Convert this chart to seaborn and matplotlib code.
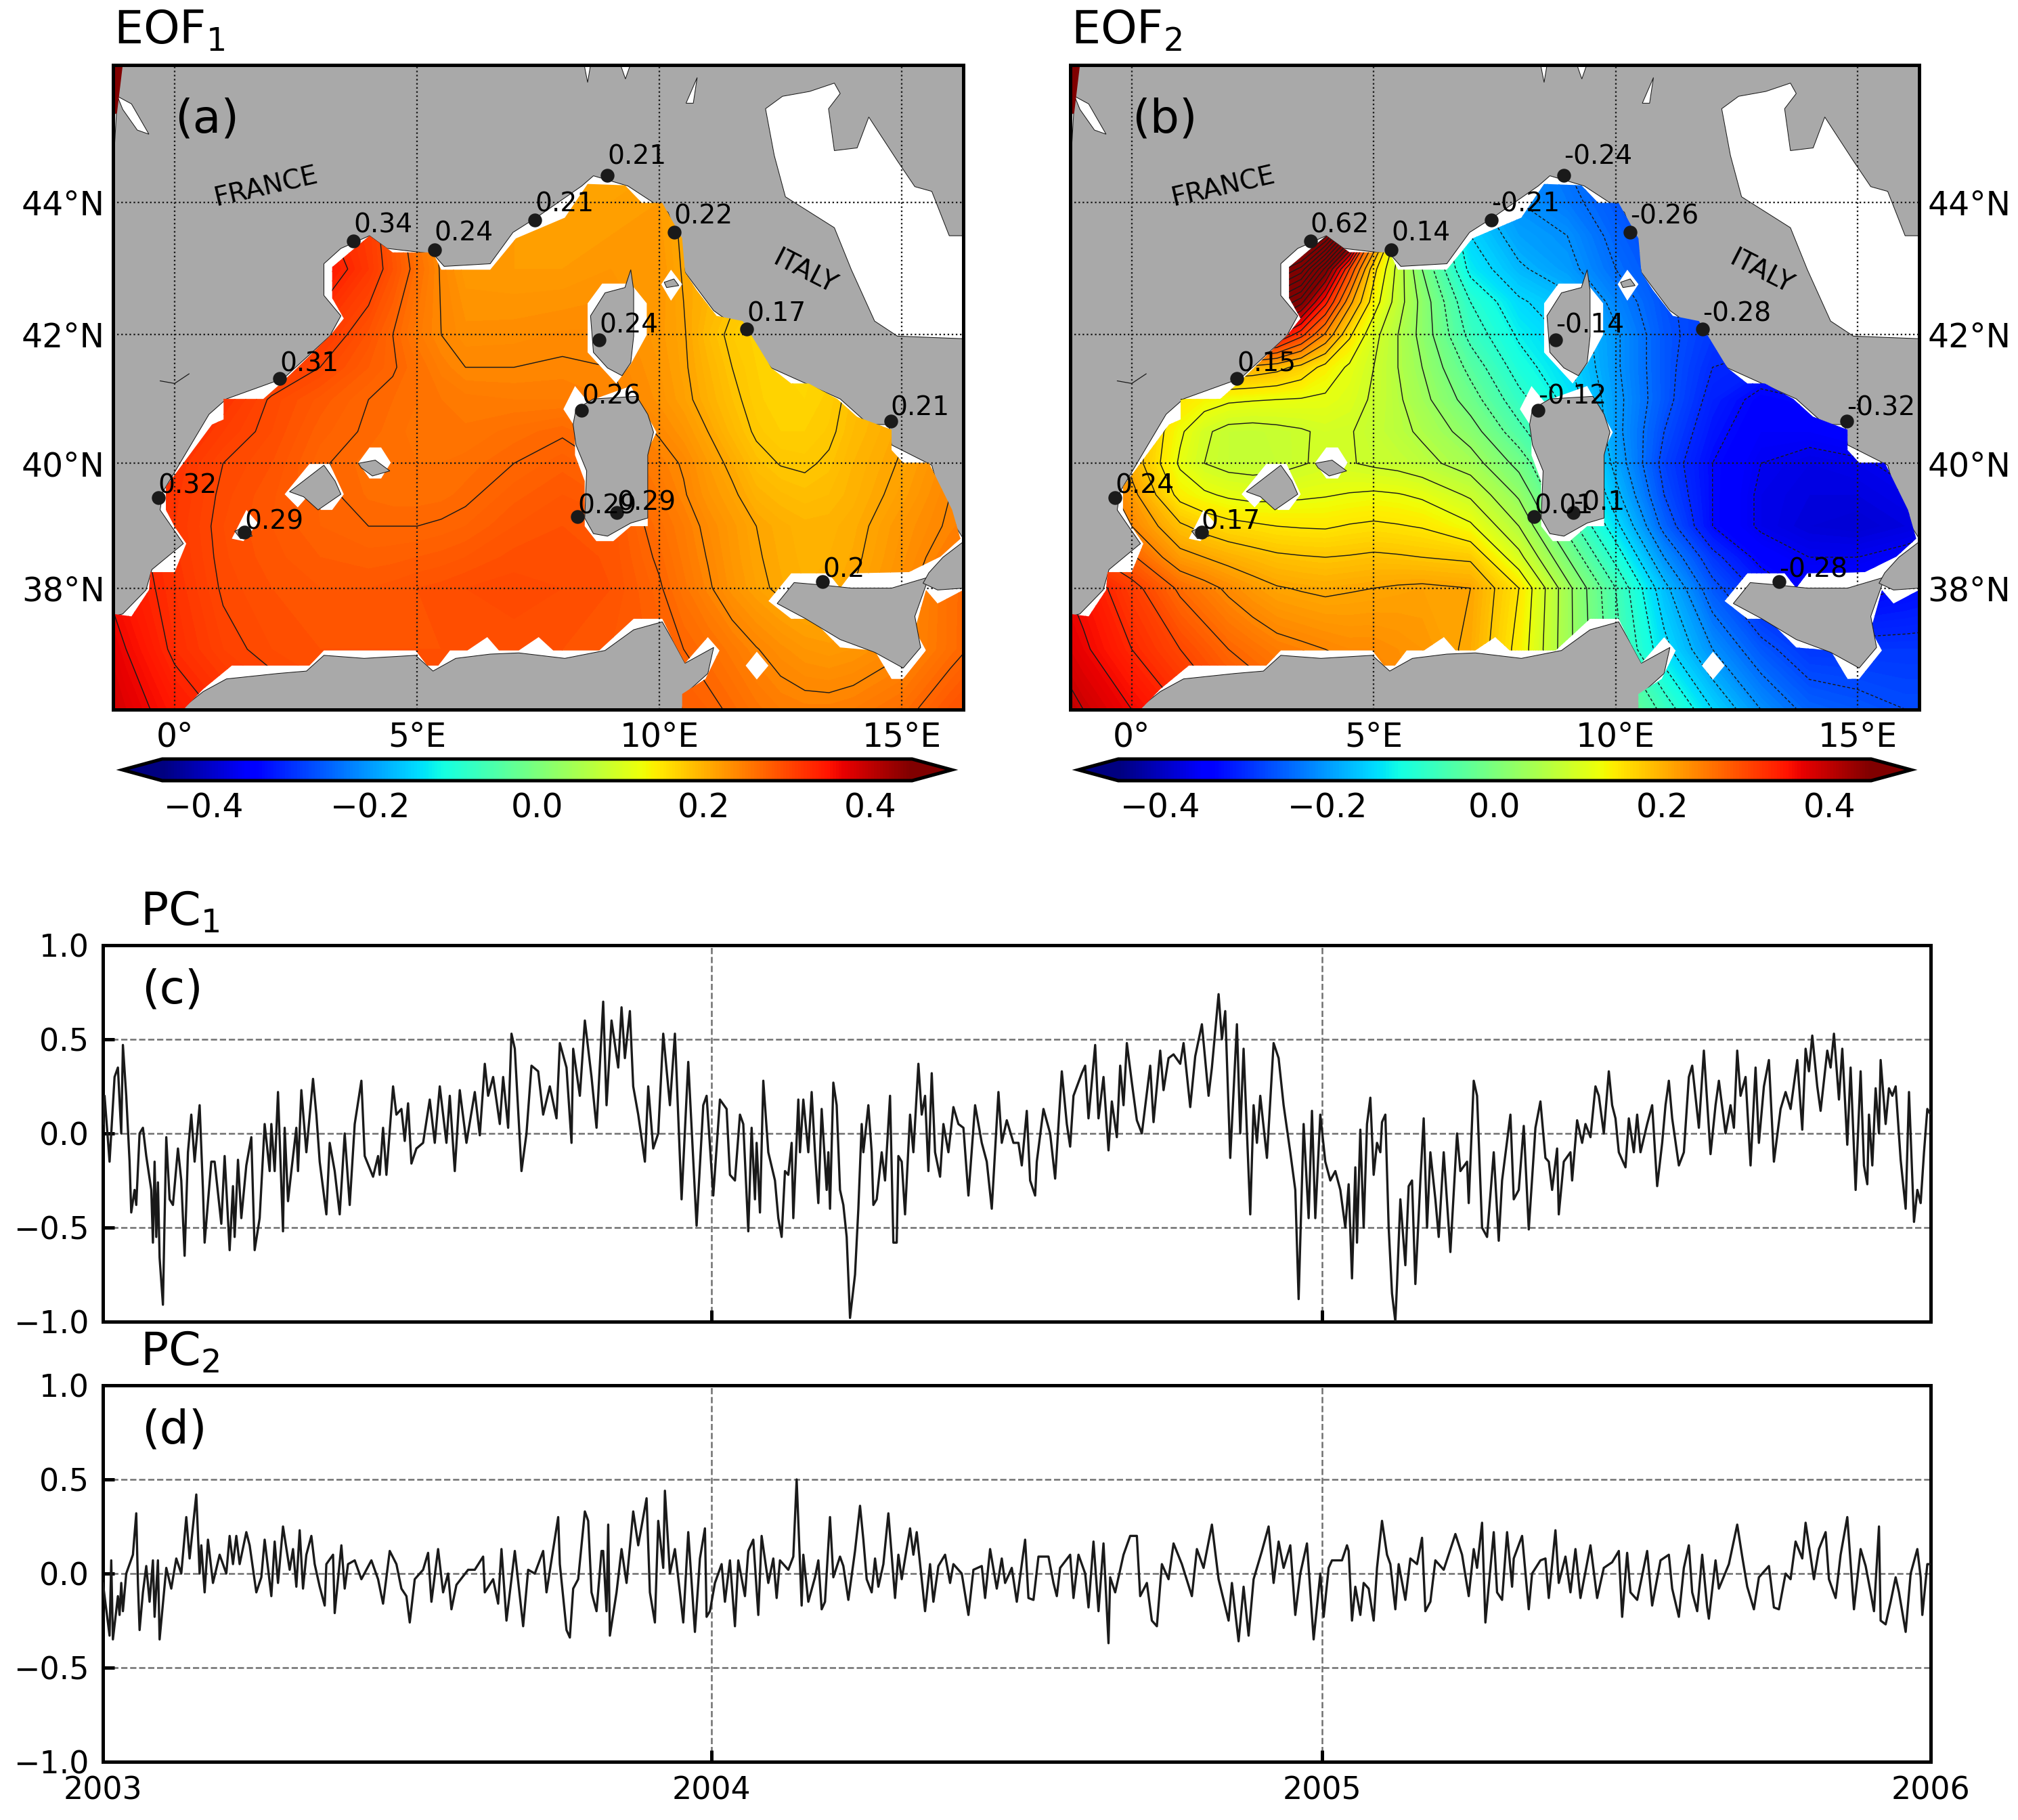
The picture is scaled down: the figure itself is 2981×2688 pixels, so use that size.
from matplotlib import pyplot as plt
from matplotlib.cm import ScalarMappable
from matplotlib.colors import Normalize
from matplotlib.patches import Polygon
import matplotlib.dates as mdates
import seaborn as sns
import numpy as np
import pandas as pd

W, H = 2981, 2688
LAND = '#a9a9a9'

# ---- field values, denser rows/columns where the contours bend
eof1_lon = [-2, -1, 0, 1, 2, 3, 4, 4.5, 5, 5.5, 6, 7, 8, 9, 10, 10.5, 11, 11.5, 12, 12.5, 13, 13.5, 14, 15, 16, 17]
eof1_lat = [36, 37, 38, 38.5, 39, 39.5, 40, 40.5, 41, 41.5, 42, 43, 44, 45]
eof1_field = [
    [.42, .375, .345, .325, .31, .30, .295, .295, .295, .295, .295, .295, .29, .285, .285, .28, .275, .267, .257, .25, .247, .247, .25, .262, .287, .30],
    [.40, .36, .325, .305, .295, .29, .29, .29, .29, .29, .292, .292, .29, .285, .278, .27, .262, .252, .241, .232, .225, .222, .225, .237, .262, .285],
    [.38, .345, .32, .298, .29, .285, .285, .287, .29, .292, .295, .298, .295, .29, .272, .257, .243, .227, .215, .206, .20, .202, .21, .232, .262, .28],
    [.375, .342, .317, .296, .287, .28, .277, .278, .28, .282, .285, .292, .293, .289, .267, .253, .239, .224, .212, .204, .198, .20, .206, .228, .252, .27],
    [.37, .34, .315, .295, .285, .275, .27, .27, .27, .272, .275, .285, .29, .288, .262, .25, .235, .222, .21, .202, .197, .198, .203, .225, .243, .26],
    [.37, .342, .317, .297, .286, .274, .264, .262, .262, .263, .267, .278, .285, .278, .255, .242, .226, .214, .198, .191, .187, .19, .198, .217, .24, .255],
    [.37, .345, .32, .30, .29, .272, .262, .26, .26, .26, .262, .27, .278, .268, .248, .238, .22, .205, .187, .179, .177, .183, .195, .212, .235, .25],
    [.37, .347, .33, .31, .295, .277, .268, .262, .258, .256, .256, .262, .268, .255, .238, .226, .21, .192, .177, .17, .17, .176, .19, .208, .225, .235],
    [.37, .35, .335, .32, .298, .283, .27, .265, .26, .255, .252, .25, .25, .245, .228, .216, .20, .185, .172, .165, .165, .172, .187, .205, .21, .22],
    [.37, .355, .342, .33, .315, .30, .28, .272, .26, .248, .24, .24, .242, .24, .225, .213, .196, .18, .17, .165, .163, .168, .18, .198, .205, .215],
    [.37, .36, .35, .34, .33, .315, .288, .27, .252, .24, .232, .233, .236, .236, .222, .212, .19, .175, .168, .165, .165, .17, .175, .19, .20, .21],
    [.36, .35, .34, .34, .34, .35, .315, .29, .262, .238, .222, .22, .22, .225, .225, .208, .20, .19, .18, .175, .17, .17, .17, .18, .19, .20],
    [.36, .35, .34, .33, .33, .33, .31, .28, .25, .235, .23, .22, .215, .215, .22, .205, .20, .195, .19, .185, .18, .18, .18, .19, .20, .20],
    [.36, .35, .34, .33, .32, .32, .30, .275, .25, .24, .23, .22, .22, .21, .21, .205, .20, .195, .19, .19, .19, .19, .19, .20, .20, .20],
]

eof2_lon = [-2, -1, 0, 1, 1.5, 2, 2.5, 3, 3.5, 4, 4.5, 5, 5.5, 6, 7, 8, 9, 10, 11, 12, 13, 14, 15, 16, 17]
eof2_lat = [36, 37, 38, 38.5, 39, 39.5, 40, 40.5, 41, 41.5, 42, 42.5, 43, 43.5, 44, 45]
eof2_field = [
    [.43, .39, .36, .33, .315, .30, .29, .28, .27, .265, .26, .25, .24, .23, .21, .15, .06, .0, -.07, -.15, -.21, -.25, -.26, -.27, -.27],
    [.40, .365, .33, .30, .285, .27, .26, .25, .245, .24, .235, .235, .23, .225, .205, .14, .04, -.05, -.14, -.21, -.26, -.29, -.29, -.29, -.29],
    [.38, .35, .31, .265, .25, .235, .222, .212, .208, .205, .208, .21, .213, .215, .21, .15, .04, -.06, -.17, -.26, -.31, -.34, -.34, -.33, -.32],
    [.34, .31, .275, .22, .21, .20, .192, .185, .182, .18, .182, .185, .183, .18, .175, .10, .0, -.10, -.21, -.29, -.34, -.36, -.36, -.35, -.34],
    [.32, .29, .24, .185, .17, .16, .155, .15, .148, .147, .152, .155, .152, .148, .125, .06, -.04, -.14, -.25, -.33, -.365, -.38, -.385, -.375, -.36],
    [.31, .28, .22, .14, .125, .115, .11, .112, .115, .118, .122, .125, .122, .115, .085, .025, -.07, -.17, -.27, -.33, -.365, -.375, -.375, -.365, -.35],
    [.30, .27, .20, .115, .09, .08, .078, .08, .088, .095, .092, .085, .08, .07, .045, -.01, -.09, -.19, -.28, -.33, -.36, -.37, -.365, -.35, -.34],
    [.30, .27, .20, .125, .095, .08, .078, .082, .087, .095, .092, .08, .068, .055, .015, -.05, -.11, -.20, -.27, -.32, -.35, -.35, -.34, -.33, -.33],
    [.30, .27, .22, .15, .135, .125, .122, .12, .118, .115, .105, .085, .065, .04, -.015, -.08, -.13, -.20, -.26, -.31, -.34, -.33, -.32, -.32, -.32],
    [.32, .30, .27, .23, .215, .205, .20, .19, .17, .14, .115, .09, .06, .03, -.04, -.105, -.145, -.205, -.26, -.30, -.31, -.30, -.30, -.30, -.30],
    [.40, .40, .40, .40, .40, .40, .40, .37, .31, .235, .155, .10, .06, .02, -.07, -.125, -.155, -.205, -.26, -.29, -.29, -.29, -.29, -.29, -.29],
    [.55, .55, .55, .55, .55, .55, .55, .52, .46, .34, .22, .135, .075, .02, -.09, -.145, -.17, -.22, -.265, -.285, -.285, -.285, -.285, -.285, -.285],
    [.70, .70, .70, .70, .70, .70, .70, .68, .62, .47, .30, .16, .08, .0, -.13, -.175, -.20, -.24, -.27, -.28, -.28, -.28, -.28, -.28, -.28],
    [.80, .80, .80, .80, .80, .80, .80, .80, .80, .70, .52, .26, .10, -.02, -.15, -.195, -.21, -.25, -.28, -.28, -.28, -.28, -.28, -.28, -.28],
    [.90, .90, .90, .90, .90, .90, .90, .90, .90, .90, .80, .40, .15, .0, -.17, -.21, -.23, -.26, -.28, -.28, -.28, -.28, -.28, -.28, -.28],
    [.90, .90, .90, .90, .90, .90, .90, .90, .90, .90, .80, .40, .15, .0, -.20, -.22, -.25, -.27, -.28, -.28, -.28, -.28, -.28, -.28, -.28],
]

# ---- stations
station_lon = [8.93, 7.43, 10.3, 5.36, 3.69, 8.76, 11.8, 2.17, 8.4, 14.77, -.34, 1.44, 8.31, 9.12, 13.37]
station_lat = [44.4, 43.73, 43.55, 43.29, 43.42, 41.92, 42.09, 41.33, 40.83, 40.66, 39.46, 38.9, 39.15, 39.22, 38.11]
eof1_labels = ['0.21', '0.21', '0.22', '0.24', '0.34', '0.24', '0.17', '0.31', '0.26', '0.21', '0.32', '0.29', '0.29', '0.29', '0.2']
eof2_labels = ['-0.24', '-0.21', '-0.26', '0.14', '0.62', '-0.14', '-0.28', '0.15', '-0.12', '-0.32', '0.24', '0.17', '0.01', '-0.1', '-0.28']
label_dy = [3.9, 3.1, 3.1, 3.1, 2.9, 2.6, 2.6, 2.4, 2.4, 2.2, 1.5, 1.1, 1.1, .9, 1.5]

# ---- coastlines (lon, lat)
sea_coast = [(.12, 36), (.59, 36.3), (1.07, 36.51), (2.13, 36.6), (2.72, 36.64), (3.08, 36.9), (3.91, 36.85), (4.97, 36.9),
             (5.33, 36.64), (5.8, 36.85), (6.51, 36.92), (7.1, 36.94), (8.05, 36.85), (8.88, 36.98), (9.47, 37.32),
             (10.06, 37.45), (10.3, 37.11), (10.53, 36.77), (11.12, 37.03), (11, 36.6), (10.53, 36.26), (10.47, 36),
             (16.27, 36), (16.27, 38.8), (15.86, 39.3), (15.62, 39.97), (14.79, 40.29), (14.73, 40.61), (14.32, 40.61),
             (13.73, 41.01), (13.02, 41.25), (12.31, 41.49), (11.72, 42.05), (11.12, 42.37), (10.53, 42.95), (10.41, 43.38),
             (10.18, 43.85), (9.35, 44.24), (8.64, 44.39), (8.4, 44.24), (7.46, 43.77), (6.98, 43.55), (6.51, 43.08),
             (5.56, 43.04), (5.33, 43.23), (4.38, 43.31), (4.02, 43.5), (3.43, 43.31), (3.08, 43.08), (3.08, 42.6),
             (3.43, 42.29), (3.2, 41.98), (2.25, 41.33), (1.07, 41.01), (.71, 40.77), (-.24, 39.55), (-.3, 39.26),
             (.18, 38.72), (-.47, 38.3), (-.59, 37.97), (-1.07, 37.58), (-1.27, 37.54), (-1.27, 36)]
adriatic = [(12.19, 45.37), (12.54, 45.55), (13.1, 45.62), (13.61, 45.74), (13.73, 45.59), (13.49, 45.37), (13.61, 44.76), (14.08, 44.8),
            (14.32, 45.25), (14.91, 44.61), (15.27, 44.23), (15.62, 44.16), (15.98, 43.5), (16.27, 43.5), (16.27, 41.94),
            (14.91, 41.98), (14.44, 42.21), (13.96, 42.99), (13.61, 43.62), (12.6, 44.08), (12.37, 44.69)]
gironde = [(-1.18, 45.55), (-.89, 45.44), (-.53, 45), (-.77, 45.06), (-1.07, 45.36)]
atlantic = [(-1.27, 45.3), (-1.2, 45.3), (-1.25, 44.7), (-1.27, 44.7)]
garda = [(10.55, 45.45), (10.78, 45.82), (10.7, 45.45)]
lakes = [(8.45, 46), (8.52, 45.75), (8.58, 46)], [(9.2, 46), (9.3, 45.8), (9.4, 46)]
atlantic_red = [(-1.27, 46), (-1.07, 46), (-1.19, 45.3), (-1.27, 45.3)]
ebro = [(-.3, 41.29), (0, 41.25), (.3, 41.4)]

corsica = [(9.41, 42.99), (9.47, 42.68), (9.47, 41.98), (9.41, 41.57), (9.23, 41.37), (8.93, 41.49), (8.64, 41.73),
           (8.58, 42.29), (8.88, 42.64), (9.29, 42.72)]
sardinia = [(8.28, 40.85), (8.64, 41.01), (9.53, 41.05), (9.76, 40.77), (9.88, 40.49), (9.76, 40.13), (9.76, 39.13),
            (9.41, 39.05), (8.93, 38.84), (8.64, 38.88), (8.46, 39.13), (8.5, 39.88), (8.28, 40.29), (8.22, 40.61)]
sicily = [(12.43, 37.75), (12.78, 38.09), (13.37, 38.05), (13.96, 38), (14.79, 38), (15.56, 38.18), (15.27, 37.54),
          (15.39, 37.03), (15.03, 36.69), (14.44, 36.95), (13.73, 37.16), (13.02, 37.5)]
calabria = [(16.27, 38.75), (15.85, 38.5), (15.56, 38.25), (15.44, 38.08), (15.74, 37.97), (16.27, 38)]
mallorca = [(2.37, 39.55), (3.08, 39.97), (3.31, 39.72), (3.43, 39.51), (2.96, 39.26), (2.66, 39.47)]
menorca = [(3.79, 40), (4.14, 40.05), (4.44, 39.88), (4.08, 39.8), (3.85, 39.93)]
ibiza = [(1.24, 38.92), (1.48, 39), (1.6, 38.84), (1.36, 38.8)]
elba = [(10.1, 42.8), (10.3, 42.85), (10.4, 42.75), (10.15, 42.72)]

# ---- outline of the gridded data
domain = [(-1.27, 36), (-1.27, 37.58), (-.89, 37.54), (-.53, 37.97), (-.5, 38.26), (0, 38.26), (.24, 38.72), (0, 38.99),
          (-.18, 39.26), (-.18, 39.63), (.77, 40.61), (1.01, 40.69), (1.01, 41.01), (1.83, 41.01), (2.25, 41.29), (3.2, 41.98),
          (3.49, 42.25), (3.25, 42.56), (3.25, 43.03), (4.02, 43.5), (4.5, 43.25), (5.33, 43.25), (5.5, 42.99), (6.51, 42.99),
          (7.04, 43.46), (8.05, 43.77), (8.52, 44.27), (9.29, 44.25), (9.64, 43.99), (10.06, 43.99), (10.47, 43.46),
          (10.53, 42.95), (10.77, 42.68), (11.18, 42.29), (11.72, 42.21), (12.31, 41.49), (12.72, 41.25), (13.08, 41.25),
          (13.67, 41.01), (14.08, 40.73), (14.79, 40.53), (14.79, 40.21), (15.03, 40.01), (15.56, 40.01), (16.04, 39.26),
          (16.21, 38.8), (15.8, 38.51), (15.15, 38.26), (13.96, 38.24), (13.73, 38), (13.49, 38.24), (12.72, 38.24),
          (12.25, 37.79), (12.72, 37.5), (13.14, 37.5), (13.73, 37.03), (14.44, 36.98), (14.79, 36.51), (15.03, 36.51),
          (15.5, 36.98), (15.27, 37.32), (15.5, 37.97), (15.74, 37.75), (16.27, 37.97), (16.27, 36), (10.47, 36),
          (10.47, 36.26), (10.95, 36.51), (11.24, 36.98), (11, 37.2), (10.53, 36.77), (10.3, 37.11), (10.06, 37.5),
          (9.47, 37.5), (8.76, 36.98), (7.81, 36.98), (7.51, 37.2), (7.1, 36.98), (6.69, 36.98), (6.45, 37.2), (6.04, 36.98),
          (5.68, 36.98), (5.44, 36.73), (5.21, 36.73), (4.97, 36.98), (3.08, 36.98), (2.78, 36.73), (1.18, 36.73),
          (.59, 36.34), (.18, 36)]
holes = [
    [(8.52, 42.48), (8.82, 42.78), (9.41, 42.78), (9.74, 42.48), (9.74, 42), (9.41, 41.55), (9.11, 41.25), (8.52, 41.73)],
    [(8.02, 40.85), (8.26, 41.21), (8.52, 40.97), (9.41, 41.21), (9.94, 40.49), (9.76, 40.21), (9.76, 39), (9.41, 39),
     (9.05, 38.76), (8.7, 38.76), (8.46, 39), (8.46, 39.72), (8.26, 40.13), (8.26, 40.57)],
    [(3.79, 40.01), (4.02, 40.25), (4.26, 40.25), (4.46, 40.01), (4.26, 39.76), (4.02, 39.76)],
    [(2.27, 39.51), (2.78, 39.99), (3.2, 39.99), (3.49, 39.51), (3.25, 39.26), (3.02, 39.26), (2.78, 39.51), (2.54, 39.3)],
    [(1.18, 38.8), (1.48, 39.26), (1.72, 39.05), (1.42, 38.76)],
    [(10.04, 42.77), (10.24, 42.99), (10.47, 42.77), (10.24, 42.52)],
    [(11.78, 36.73), (12.01, 36.96), (12.25, 36.73), (12.01, 36.5)],
]

# ---- principal components: (day since 2003-01-01, value), turning points
pc1_points = [
    (0, .05), (1, .2), (4, -.15), (7, .3), (9, .35), (11, 0), (12, .47), (14, .2), (16, -.15), (17, -.42), (19, -.3), (20, -.38),
    (22, 0), (24, .03), (26, -.12), (29, -.3), (30, -.58), (31, -.15), (32, -.55), (33, -.26), (34, -.66), (36, -.91), (37, -.45),
    (38, -.02), (40, -.35), (42, -.38), (45, -.08), (47, -.25), (49, -.65), (51, -.1), (53, .1), (55, -.15), (58, .15), (60, -.3),
    (61, -.58), (65, -.15), (67, -.15), (71, -.48), (73, -.12), (76, -.62), (78, -.28), (79, -.55), (81, -.14), (83, -.45),
    (86, -.17), (89, -.02), (91, -.62), (94, -.45), (97, .05), (100, -.2), (101, .05), (103, -.2), (105, .22), (108, -.52),
    (109, .03), (111, -.36), (113, -.2), (116, .03), (117, -.2), (119, .23), (122, -.1), (126, .29), (128, .1), (130, -.15),
    (134, -.43), (136, -.05), (139, -.2), (142, -.43), (145, 0), (148, -.38), (151, .05), (155, .28), (157, -.12), (162, -.23),
    (165, -.12), (166, -.22), (168, .03), (170, -.22), (174, .25), (176, .1), (179, .13), (181, -.04), (183, .16), (185, -.16),
    (188, -.08), (192, -.05), (196, .18), (199, -.05), (202, .25), (206, -.05), (208, .2), (211, -.2), (214, .23), (218, -.05),
    (223, .22), (226, -.01), (229, .37), (231, .2), (234, .3), (238, .05), (240, .3), (243, .03), (245, .53), (247, .45),
    (251, -.2), (254, 0), (257, .36), (261, .33), (264, .1), (268, .25), (272, .08), (274, .48), (278, .35), (281, -.05),
    (282, .45), (286, .2), (289, .6), (293, .3), (296, .03), (300, .7), (302, .15), (305, .6), (309, .35), (311, .67), (313, .4),
    (316, .65), (318, .25), (321, .1), (325, -.15), (327, .25), (330, -.08), (333, 0), (336, .53), (340, .15), (343, .53),
    (347, -.35), (351, .38), (356, -.49), (360, .15), (362, .2), (366, -.33), (370, .18), (374, .13), (376, -.22), (379, -.25),
    (382, .1), (384, .05), (387, -.52), (389, .03), (391, -.35), (392, -.05), (394, -.42), (396, .28), (399, -.1), (403, -.25),
    (405, -.45), (407, -.55), (409, -.2), (411, -.22), (413, -.05), (414, -.45), (417, .18), (418, -.1), (420, .18), (423, -.1),
    (425, .22), (427, -.1), (429, -.37), (431, .13), (434, -.3), (435, -.1), (436, -.4), (438, .27), (440, .15), (442, -.3),
    (444, -.38), (446, -.55), (448, -.98), (451, -.75), (453, -.4), (455, .05), (456, -.1), (459, .15), (461, -.1), (462, -.38),
    (464, -.35), (467, -.1), (469, -.25), (472, .2), (474, -.58), (476, -.58), (477, -.12), (479, -.15), (481, -.43), (484, .1),
    (486, -.1), (489, .37), (491, .1), (493, .2), (495, -.2), (497, .32), (499, -.1), (502, -.23), (504, .05), (507, -.1),
    (510, .14), (513, .05), (516, .03), (519, -.33), (523, .15), (527, -.05), (530, -.15), (533, -.4), (537, .22), (539, -.05),
    (542, .07), (546, -.05), (549, -.05), (551, -.17), (554, .12), (556, -.25), (559, -.33), (560, -.15), (564, .13), (568, 0),
    (571, -.24), (575, .33), (578, .05), (580, -.07), (582, .2), (587, .32), (589, .36), (591, .08), (595, .47), (597, .08),
    (600, .3), (603, -.09), (605, .17), (608, -.02), (610, .36), (612, .15), (614, .48), (617, .27), (620, .07), (623, 0),
    (628, .36), (630, .06), (634, .44), (636, .23), (639, .4), (642, .42), (646, .37), (648, .48), (652, .14), (655, .41),
    (659, .58), (663, .2), (665, .35), (669, .74), (671, .5), (673, .65), (676, -.13), (680, .58), (682, 0), (684, .45),
    (688, -.43), (690, .15), (692, -.05), (694, .2), (698, -.13), (702, .48), (705, .4), (708, .15), (712, -.1), (715, -.3),
    (717, -.88), (720, .05), (723, -.45), (725, .12), (727, -.45), (730, .1), (733, -.15), (736, -.25), (739, -.2), (742, -.3),
    (745, -.5), (747, -.27), (749, -.77), (751, -.18), (752, -.58), (754, .02), (756, -.5), (758, .05), (760, .19), (762, -.22),
    (764, -.05), (766, -.1), (767, .06), (769, .1), (771, -.5), (773, -.85), (775, -1.0), (776, -.8), (778, -.35), (781, -.7),
    (783, -.28), (785, -.25), (787, -.8), (790, -.25), (792, .08), (794, -.5), (796, -.1), (799, -.35), (801, -.55), (804, -.1),
    (808, -.63), (812, 0), (814, -.2), (818, -.15), (819, -.37), (822, .28), (824, .2), (827, -.5), (830, -.55), (834, -.1),
    (837, -.57), (839, -.25), (844, .1), (846, -.35), (849, -.3), (852, .04), (855, -.51), (859, .03), (862, .17), (865, -.13),
    (867, -.15), (869, -.3), (872, -.08), (873, -.43), (876, -.15), (880, -.1), (881, -.25), (884, .07), (887, -.05), (889, .05),
    (892, -.02), (895, .25), (897, .2), (900, 0), (903, .33), (905, .15), (907, .08), (909, -.1), (913, -.18), (915, .08),
    (918, -.1), (920, .1), (922, -.1), (926, .05), (929, .15), (932, -.28), (935, -.05), (937, .15), (939, .28), (941, .08),
    (945, -.17), (948, -.1), (951, .3), (953, .36), (957, .03), (960, .44), (964, -.11), (967, .15), (969, .28), (973, 0),
    (976, .15), (978, .03), (980, .44), (982, .2), (985, .3), (988, -.17), (991, .35), (993, -.05), (996, .25), (999, .39),
    (1002, -.15), (1006, .13), (1009, .22), (1012, .13), (1016, .39), (1019, .02), (1021, .45), (1023, .33), (1025, .52),
    (1028, .25), (1030, .12), (1034, .44), (1036, .35), (1038, .53), (1041, .18), (1043, .45), (1046, -.06), (1048, .35),
    (1051, -.3), (1054, .33), (1056, -.17), (1058, -.27), (1059, .1), (1061, -.17), (1063, .24), (1065, 0), (1066, .39),
    (1069, .05), (1071, .24), (1073, .2), (1075, .25), (1078, -.14), (1081, -.4), (1083, .22), (1086, -.47), (1088, -.3),
    (1090, -.37), (1092, -.1), (1094, .13), (1096, .1),
]

pc2_points = [
    (0, -.05), (4, -.33), (5, .07), (6, -.35), (9, -.12), (10, -.22), (11, -.05), (12, -.2), (14, 0), (16, .05), (18, .1), (20, .32),
    (21, -.05), (22, -.3), (24, -.1), (26, .04), (28, -.15), (30, .07), (31, -.23), (33, .07), (34, -.35), (38, .03), (41, -.08),
    (44, .08), (47, 0), (50, .3), (52, .08), (56, .42), (58, 0), (59, .15), (61, -.1), (63, .18), (66, -.05), (70, .1), (74, 0),
    (76, .2), (78, .05), (80, .2), (82, .05), (86, .22), (88, .15), (92, -.1), (95, -.02), (97, .18), (101, -.12), (103, .17),
    (105, -.05), (108, .25), (112, .02), (114, .13), (116, -.07), (118, .23), (120, -.08), (122, .1), (125, .2), (127, .05),
    (130, -.07), (133, -.17), (134, .05), (138, .1), (139, -.21), (143, .15), (145, -.08), (147, .05), (151, .07), (155, -.03),
    (161, .07), (165, -.03), (168, -.16), (172, .12), (176, .05), (179, -.08), (182, -.12), (184, -.26), (187, -.03), (192, .02),
    (195, .11), (197, -.15), (201, .13), (204, -.1), (207, 0), (209, -.19), (212, -.06), (219, .02), (223, .02), (228, .09),
    (229, -.1), (234, -.03), (237, -.16), (239, .13), (242, -.25), (247, .12), (252, -.28), (255, .02), (259, 0), (264, .12),
    (266, -.1), (270, .13), (273, .3), (274, .05), (278, -.3), (280, -.34), (282, -.08), (285, -.03), (289, .33), (291, .28),
    (293, -.1), (296, -.2), (299, .12), (300, .12), (302, -.2), (303, .26), (304, -.33), (308, -.1), (311, .13), (314, -.05),
    (318, .33), (321, .15), (326, .4), (328, -.1), (331, -.26), (333, .28), (336, .03), (337, .44), (340, 0), (343, .13),
    (346, -.1), (348, -.26), (351, .22), (355, -.31), (358, .08), (361, .24), (362, -.23), (364, -.2), (367, -.05), (371, .05),
    (373, -.15), (376, .07), (379, -.28), (381, .07), (385, -.12), (387, .12), (390, .18), (393, -.22), (395, .2), (399, -.05),
    (402, .08), (404, -.13), (406, .07), (411, .02), (414, .09), (416, .5), (419, -.17), (420, .1), (423, -.15), (427, -.02),
    (429, .07), (431, -.19), (433, -.15), (436, .3), (438, -.02), (442, .09), (444, .04), (447, -.14), (451, .12), (454, .36),
    (456, .18), (458, -.03), (461, -.1), (463, .08), (465, -.07), (468, .05), (471, .32), (475, -.13), (477, .1), (479, -.03),
    (484, .24), (486, .1), (488, .22), (493, -.2), (496, .05), (498, -.15), (501, .04), (505, .1), (508, -.05), (510, .05),
    (515, 0), (519, -.22), (522, .02), (527, .04), (529, -.13), (532, .13), (536, -.08), (539, .08), (541, -.05), (545, .03),
    (548, -.15), (551, .05), (553, .18), (555, -.13), (558, -.14), (561, .09), (567, .09), (570, -.05), (572, -.12), (574, .03),
    (580, .1), (582, -.13), (585, .1), (589, 0), (591, -.18), (594, .17), (597, -.2), (600, .16), (603, -.37), (604, -.02),
    (607, -.1), (612, .1), (616, .2), (620, .2), (622, -.12), (626, -.05), (629, -.25), (632, -.28), (635, .05), (639, -.03),
    (642, .16), (647, .05), (653, -.12), (656, .13), (660, .03), (665, .26), (669, -.03), (675, -.25), (677, -.05), (681, -.36),
    (684, -.07), (687, -.33), (690, -.03), (695, .12), (699, .25), (702, -.05), (705, .17), (708, .03), (712, .15), (715, -.22),
    (718, 0), (722, .16), (726, -.35), (730, 0), (732, -.23), (735, .03), (737, .07), (743, .07), (746, .15), (747, .12),
    (749, -.25), (751, -.07), (754, -.22), (756, -.05), (759, -.08), (762, -.25), (764, .03), (767, .28), (770, .1), (772, .05),
    (775, -.19), (777, .05), (781, -.14), (784, .08), (788, .05), (791, .19), (793, -.2), (796, -.15), (799, .07), (804, .02),
    (811, .21), (815, .1), (819, -.12), (822, .13), (824, .03), (827, .27), (829, -.26), (834, .22), (836, -.1), (839, -.14),
    (842, .22), (845, -.07), (846, .08), (851, .2), (855, -.19), (857, 0), (862, .07), (865, .08), (867, -.13), (871, .23),
    (873, -.05), (877, .09), (880, -.1), (883, .13), (886, -.13), (892, .15), (896, -.13), (900, .03), (905, .06), (909, .12),
    (911, -.23), (914, .11), (916, -.1), (920, -.14), (926, .12), (929, -.17), (934, .07), (939, .1), (941, -.08), (945, -.23),
    (948, .03), (951, .15), (953, -.1), (956, -.2), (959, .1), (962, -.18), (963, -.24), (967, .07), (969, -.08), (975, .05),
    (980, .26), (983, .09), (986, -.07), (990, -.19), (993, -.02), (999, .04), (1002, -.18), (1005, -.19), (1009, 0), (1012, -.03),
    (1015, .17), (1019, .08), (1021, .27), (1026, -.03), (1029, .13), (1033, .22), (1035, -.03), (1039, -.13), (1042, .1),
    (1046, .3), (1050, -.19), (1054, .13), (1057, .04), (1060, -.1), (1062, -.2), (1065, .25), (1066, -.25), (1069, -.27),
    (1072, -.15), (1075, -.02), (1077, -.1), (1081, -.31), (1084, 0), (1088, .13), (1090, -.02), (1091, -.22), (1094, .05), (1096, .05),
]

year_ticks = ['2003-01-01', '2004-01-01', '2005-01-01', '2006-01-01']


def merc(lat):
    return np.degrees(np.log(np.tan(np.radians(45 + np.asarray(lat, dtype=float) / 2))))


def to_map(points):
    pts = np.array(points, dtype=float)
    return np.column_stack([pts[:, 0], merc(pts[:, 1])])


def px_axes(fig, left, top, right, bottom):
    return fig.add_axes([left / W, 1 - bottom / H, (right - left) / W, (bottom - top) / H])


def draw_map(ax, lons, lats, field, labels, title, panel, ylabel_right=False):
    ax.set_facecolor(LAND)
    ax.set_xlim(-1.27, 16.27)
    ax.set_ylim(merc(36), merc(46))

    for coast in [sea_coast, adriatic, gironde, atlantic, garda, *lakes]:
        ax.add_patch(Polygon(to_map(coast), fc='white', ec='k', lw=0.25, zorder=1))
    ax.add_patch(Polygon(to_map(atlantic_red), fc='#800000', ec='none', zorder=1))
    ebro_xy = to_map(ebro)
    ax.plot(ebro_xy[:, 0], ebro_xy[:, 1], color='k', lw=0.3, zorder=1)

    lon_g, lat_g = np.meshgrid(lons, merc(lats))
    z = np.array(field)
    clip = Polygon(to_map(domain), transform=ax.transData)
    filled = ax.contourf(lon_g, lat_g, z, levels=np.linspace(-.45, .45, 181), cmap='jet', extend='both',
                         antialiased=False, zorder=2)
    filled.set_clip_path(clip)
    lines = ax.contour(lon_g, lat_g, z, levels=np.arange(-.45, .931, .03), colors='k', linewidths=0.35, zorder=3,
                       negative_linestyles=(0, (3, 2)))
    lines.set_clip_path(clip)

    for hole in holes:
        ax.add_patch(Polygon(to_map(hole), fc='white', ec='none', zorder=4))
    for land in [corsica, sardinia, sicily, calabria, mallorca, menorca, ibiza, elba]:
        ax.add_patch(Polygon(to_map(land), fc=LAND, ec='k', lw=0.25, zorder=5))

    ax.set_xticks([0, 5, 10, 15], ['0°', '5°E', '10°E', '15°E'])
    ax.set_yticks(merc([38, 40, 42, 44]), ['38°N', '40°N', '42°N', '44°N'])
    ax.tick_params(axis='x', length=0, labelsize=11.7, pad=4)
    ax.tick_params(axis='y', length=0, labelsize=11.7, pad=3)
    if ylabel_right:
        ax.yaxis.tick_right()
    ax.set_axisbelow(False)
    ax.grid(True, color='k', ls=':', lw=0.55)
    for s in ax.spines.values():
        s.set_linewidth(1.2)
        s.set_zorder(10)

    sns.scatterplot(x=station_lon, y=merc(station_lat), s=24, color='k', linewidth=0, zorder=8, ax=ax, legend=False)
    for lon, lat, txt, dy in zip(station_lon, station_lat, labels, label_dy):
        ax.annotate(txt, (lon, merc(lat)), xytext=(0, dy), textcoords='offset points', fontsize=9.4, zorder=9,
                    ha='left', va='baseline')
    ax.text(1.88, merc(44.22), 'FRANCE', fontsize=9.4, rotation=13, ha='center', va='center', zorder=9)
    ax.text(13.0, merc(42.95), 'ITALY', fontsize=9.4, rotation=-27, ha='center', va='center', zorder=9)
    ax.text(0.0726, 0.915, panel, transform=ax.transAxes, fontsize=16.4, ha='left', va='center', zorder=9)
    ax.text(0.001, 1.033, title, transform=ax.transAxes, fontsize=16.4, ha='left', va='baseline')


def draw_bar(fig, left, right):
    # the axes spans tip to tip, the colored body sits inside it
    cax = px_axes(fig, left, 1121, right, 1153)
    sm = ScalarMappable(norm=Normalize(-.45, .45), cmap='jet')
    bar = fig.colorbar(sm, cax=cax, orientation='horizontal', extend='both', extendfrac=0.053,
                       ticks=[-.4, -.2, 0, .2, .4])
    bar.ax.tick_params(direction='in', length=4, width=1, labelsize=11.7, pad=4)
    bar.outline.set_linewidth(1.2)


def draw_pc(ax, points, title, panel, show_years):
    days, values = zip(*points)
    data = pd.DataFrame({'date': pd.Timestamp('2003-01-01') + pd.to_timedelta(days, unit='D'), 'value': values})
    sns.lineplot(data=data, x='date', y='value', color='k', lw=0.8, estimator=None, errorbar=None, ax=ax, zorder=3)
    ax.set_xlim(pd.Timestamp(year_ticks[0]), pd.Timestamp(year_ticks[-1]))
    ax.set_ylim(-1, 1)
    ax.set_xlabel('')
    ax.set_ylabel('')
    ax.set_yticks([-1, -.5, 0, .5, 1])
    ax.set_xticks(pd.to_datetime(year_ticks))
    ax.xaxis.set_major_formatter(mdates.DateFormatter('%Y'))
    ax.tick_params(axis='both', direction='in', length=4, width=1.2, labelsize=11, pad=5)
    if not show_years:
        ax.tick_params(axis='x', labelbottom=False)
    ax.grid(True, color='#707070', ls='--', lw=0.6)
    for s in ax.spines.values():
        s.set_visible(True)
        s.set_linewidth(1.2)
    ax.text(0.0212, 0.88, panel, transform=ax.transAxes, fontsize=16.4, ha='left', va='center')
    ax.text(0.0205, 1.053, title, transform=ax.transAxes, fontsize=16.4, ha='left', va='baseline')


sns.set_theme(style='ticks')
plt.rcParams['font.family'] = ['DejaVu Sans']
plt.rcParams['mathtext.default'] = 'regular'
for key in ['text.color', 'axes.edgecolor', 'axes.labelcolor', 'xtick.color', 'ytick.color']:
    plt.rcParams[key] = 'black'

fig = plt.figure(figsize=(W / 300, H / 300), dpi=300)

ax_a = px_axes(fig, 167, 96, 1423, 1048)
ax_b = px_axes(fig, 1581, 96, 2835, 1048)
draw_map(ax_a, eof1_lon, eof1_lat, eof1_field, eof1_labels, r'$\mathrm{EOF}_1$', '(a)')
draw_map(ax_b, eof2_lon, eof2_lat, eof2_field, eof2_labels, r'$\mathrm{EOF}_2$', '(b)', ylabel_right=True)
draw_bar(fig, 181, 1406)
draw_bar(fig, 1593, 2823)

ax_c = px_axes(fig, 152, 1396, 2852, 1952)
ax_d = px_axes(fig, 152, 2046, 2852, 2602)
draw_pc(ax_c, pc1_points, r'$\mathrm{PC}_1$', '(c)', False)
draw_pc(ax_d, pc2_points, r'$\mathrm{PC}_2$', '(d)', True)

fig.savefig('out.png', dpi=300)
plt.close(fig)
